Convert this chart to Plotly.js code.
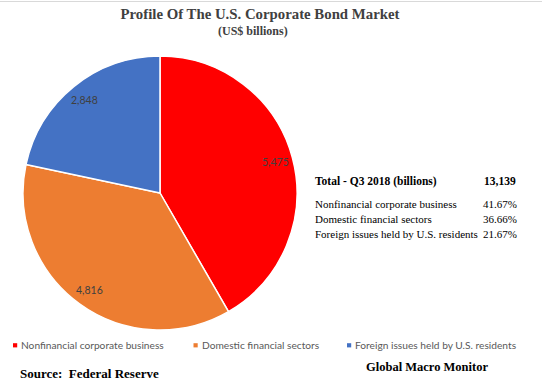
<!DOCTYPE html>
<html>
<head>
<meta charset="utf-8">
<script src="https://cdn.plot.ly/plotly-3.0.1.min.js"></script>
<style>html,body{margin:0;padding:0;background:#fff;}#chart{width:542px;height:391px;}</style>
</head>
<body>
<div id="chart"></div>
<script>
// Data
const categories = ["Nonfinancial corporate business", "Domestic financial sectors", "Foreign issues held by U.S. residents"];
const values = [5475, 4816, 2848];
const sharesText = ["41.67%", "36.66%", "21.67%"];
const totalLabel = "Total - Q3 2018 (billions)";
const totalValue = "13,139";
const colors = ["#FF0000", "#ED7D31", "#4472C4"];

const W = 542, H = 391;
const cxPx = 160, cyPx = 193, rPx = 137;
const px = x => x / W;
const py = y => 1 - y / H;

const trace = {
  type: "pie",
  labels: categories,
  values: values,
  sort: false,
  direction: "clockwise",
  rotation: 0,
  textinfo: "none",
  hoverinfo: "label+value+percent",
  showlegend: false,
  marker: {colors: colors, line: {color: "#ffffff", width: 1.5}},
  domain: {x: [px(cxPx - rPx), px(cxPx + rPx)], y: [py(cyPx + rPx), py(cyPx - rPx)]}
};

// slice value labels placed along each slice bisector (inside end)
const total = values.reduce((a, b) => a + b, 0);
const annotations = [];
const shapes = [];
let cum = 0;
values.forEach((v, i) => {
  const mid = (cum + v / 2) / total * 2 * Math.PI;
  cum += v;
  const r = rPx * 0.875;
  const x = cxPx + r * Math.sin(mid);
  const y = cyPx - r * Math.cos(mid);
  annotations.push({
    xref: "paper", yref: "paper", x: px(x), y: py(y), showarrow: false,
    text: v.toLocaleString("en-US"),
    font: {family: "Lato, 'Open Sans', sans-serif", size: 10.5, color: "#404040"},
    xanchor: "center", yanchor: "middle"
  });
});

// legend (custom, Excel-like small squares)
const legendX = [13, 193.5, 347];
const legendY = 345.3;
categories.forEach((c, i) => {
  shapes.push({type: "rect", xref: "paper", yref: "paper",
    x0: px(legendX[i]), x1: px(legendX[i] + 4.2), y0: py(legendY - 2.1), y1: py(legendY + 2.1),
    fillcolor: colors[i], line: {width: 0}});
  annotations.push({xref: "paper", yref: "paper", x: px(legendX[i] + 7), y: py(legendY), showarrow: false,
    text: c, font: {family: "Lato, 'Open Sans', sans-serif", size: 10.2, color: "#595959"},
    xanchor: "left", yanchor: "middle", borderpad: 0});
});

const serif = "'Liberation Serif', 'Times New Roman', serif";
// subtitle
annotations.push({xref: "paper", yref: "paper", x: px(253), y: py(31), showarrow: false,
  text: "<b>(US$ billions)</b>", font: {family: serif, size: 12, color: "#404040"}, xanchor: "center", yanchor: "middle"});
// table
annotations.push({xref: "paper", yref: "paper", x: px(313), y: py(181), showarrow: false,
  text: "<b>" + totalLabel + "</b>", font: {family: serif, size: 11.5, color: "#000"}, xanchor: "left", yanchor: "middle"});
annotations.push({xref: "paper", yref: "paper", x: px(518), y: py(181), showarrow: false,
  text: "<b>" + totalValue + "</b>", font: {family: serif, size: 11.5, color: "#000"}, xanchor: "right", yanchor: "middle"});
const rowY = [204, 219, 234];
categories.forEach((c, i) => {
  annotations.push({xref: "paper", yref: "paper", x: px(313), y: py(rowY[i]), showarrow: false,
    text: c, font: {family: serif, size: 11, color: "#000"}, xanchor: "left", yanchor: "middle"});
  annotations.push({xref: "paper", yref: "paper", x: px(519), y: py(rowY[i]), showarrow: false,
    text: sharesText[i], font: {family: serif, size: 11, color: "#000"}, xanchor: "right", yanchor: "middle"});
});
// footer
annotations.push({xref: "paper", yref: "paper", x: px(18), y: py(373), showarrow: false,
  text: "<b>Source:  Federal Reserve</b>", font: {family: serif, size: 13, color: "#000"}, xanchor: "left", yanchor: "middle"});
annotations.push({xref: "paper", yref: "paper", x: px(427), y: py(367), showarrow: false,
  text: "<b>Global Macro Monitor</b>", font: {family: serif, size: 12.5, color: "#000"}, xanchor: "center", yanchor: "middle"});

shapes.push({type: "line", xref: "paper", yref: "paper", x0: 0, x1: 1, y0: py(1.5), y1: py(1.5), line: {color: "#d9d9d9", width: 1}});

const layout = {
  width: W, height: H,
  margin: {l: 0, r: 0, t: 0, b: 0},
  paper_bgcolor: "#ffffff",
  title: {
    text: "<b>Profile Of The U.S. Corporate Bond Market</b>",
    font: {family: serif, size: 14.8, color: "#404040"},
    x: px(260), xanchor: "center", y: py(14), yanchor: "middle", xref: "paper", yref: "paper"
  },
  showlegend: false,
  annotations: annotations,
  shapes: shapes
};

Plotly.newPlot("chart", [trace], layout, {displayModeBar: false, staticPlot: true});
</script>
</body>
</html>
